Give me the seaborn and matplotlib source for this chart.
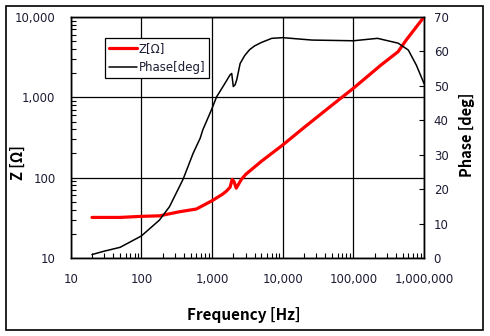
import numpy as np
import pandas as pd
import matplotlib
matplotlib.use("Agg")
import matplotlib.pyplot as plt
import matplotlib.ticker as mticker
from matplotlib.lines import Line2D
from matplotlib.patches import Rectangle
import seaborn as sns

# Impedance magnitude vs frequency
z_freq = [20, 50, 100, 180, 350, 600, 1000, 1400, 1600, 1800, 1930, 2050,
          2200, 2600, 3000, 5000, 10000, 20000, 50000, 100000, 245000,
          430000, 560000, 1000000]
z_ohm = [32, 32, 33, 33.5, 37.7, 40.7, 51.6, 62, 68, 76, 95, 89,
         74, 95, 110, 160, 255, 420, 800, 1295, 2515,
         3700, 5170, 10000]

# Phase angle vs frequency
ph_freq = [20, 30, 50, 100, 180, 250, 390, 540, 680, 740, 980, 1160, 1500,
           1800, 1900, 2000, 2120, 2240, 2500, 2900, 3400, 4000, 5000, 7000,
           10000, 26000, 100000, 220000, 430000, 600000, 780000, 1000000]
ph_deg = [1, 2, 3.1, 6.4, 11, 14.9, 22.9, 30.4, 34.8, 37.2, 43, 46.8, 50.5,
          53.2, 53.6, 49.8, 50.3, 51.8, 56.5, 58.8, 60.5, 61.6, 62.6, 63.8,
          64.0, 63.3, 63.1, 63.8, 62.4, 60.4, 56, 50.7]

x_ticks = [10, 100, 1000, 10000, 100000, 1000000]
x_labels = ["10", "100", "1,000", "10,000", "100,000", "1,000,000"]
z_ticks = [10, 100, 1000, 10000]
z_labels = ["10", "100", "1,000", "10,000"]
ph_ticks = [0, 10, 20, 30, 40, 50, 60, 70]

sns.set_theme(style="white")
plt.rcParams["font.family"] = ["DejaVu Sans"]

TXT = "#1c1c34"
TITLE_FONT = ["Noto Sans CJK KR", "DejaVu Sans"]

fig = plt.figure(figsize=(4.9, 3.36), dpi=100)
ax = fig.add_axes([70.7 / 490, 1 - 258 / 336, (424 - 70.7) / 490, (258 - 17) / 336])
ax2 = ax.twinx()

df_z = pd.DataFrame({"freq": z_freq, "Z": z_ohm})
df_p = pd.DataFrame({"freq": ph_freq, "phase": ph_deg})

sns.lineplot(data=df_z, x="freq", y="Z", ax=ax, color="#ff0000", lw=2.3, zorder=5)
sns.lineplot(data=df_p, x="freq", y="phase", ax=ax2, color="black", lw=1.1, zorder=4)

ax.set_xscale("log")
ax.set_yscale("log")
ax.set_xlim(10, 1e6)
ax.set_ylim(10, 1e4)
ax2.set_ylim(0, 70)

ax.set_xticks(x_ticks)
ax.set_xticklabels(x_labels)
ax.set_yticks(z_ticks)
ax.set_yticklabels(z_labels)
ax2.set_yticks(ph_ticks)
ax2.set_yticklabels([str(t) for t in ph_ticks])

ax.xaxis.set_minor_locator(mticker.LogLocator(base=10, subs=np.arange(2, 10)))
ax.yaxis.set_minor_locator(mticker.LogLocator(base=10, subs=np.arange(2, 10)))
ax.xaxis.set_minor_formatter(mticker.NullFormatter())
ax.yaxis.set_minor_formatter(mticker.NullFormatter())

ax.grid(True, which="major", color="black", lw=0.9)
ax2.grid(False)
ax.set_axisbelow(True)

ax.tick_params(axis="x", which="major", length=0, pad=11, labelsize=8.5, labelcolor=TXT)
ax.tick_params(axis="y", which="major", length=0, pad=11, labelsize=8.5, labelcolor=TXT)
ax.tick_params(axis="both", which="minor", direction="in", length=3.5, width=0.8,
               color="black", bottom=True, left=True)
ax2.tick_params(axis="y", which="major", direction="in", length=3.5, width=0.8,
                color="black", pad=7, labelsize=8.5, labelcolor=TXT)

for a in (ax, ax2):
    for sp in a.spines.values():
        sp.set_color("black")
        sp.set_linewidth(1.0)

ax.set_xlabel("Frequency [Hz]", fontsize=11, fontweight="bold", color="black",
              family=TITLE_FONT)
ax.xaxis.set_label_coords(0.49, -0.205)
ax.set_ylabel("Z [Ω]", fontsize=10.5, fontweight="bold", color="black",
              family=TITLE_FONT)
ax.yaxis.set_label_coords(-0.128, 0.394)
ax2.set_ylabel("Phase [deg]", fontsize=10.5, fontweight="bold", color="black",
               family=TITLE_FONT)
ax2.yaxis.set_label_coords(1.098, 0.51)

handles = [Line2D([], [], color="#ff0000", lw=2.3),
           Line2D([], [], color="black", lw=1.1)]
leg = ax.legend(handles, ["Z[Ω]", "Phase[deg]"], loc="upper left",
                bbox_to_anchor=(0.097, 0.914), fontsize=8.5, frameon=True,
                fancybox=False, edgecolor="black", framealpha=1,
                borderpad=0.35, handlelength=2.4, handletextpad=0.1,
                labelspacing=0.5, borderaxespad=0)
leg.get_frame().set_linewidth(0.9)
for t in leg.get_texts():
    t.set_color(TXT)
leg.set_zorder(10)

# outer chart border
fig.patches.append(Rectangle((5.5 / 490, 1 - 330 / 336), (483 - 5.5) / 490,
                             (330 - 5.5) / 336, transform=fig.transFigure,
                             fill=False, edgecolor="black", lw=1.2))

fig.savefig("out.png", dpi=100)
